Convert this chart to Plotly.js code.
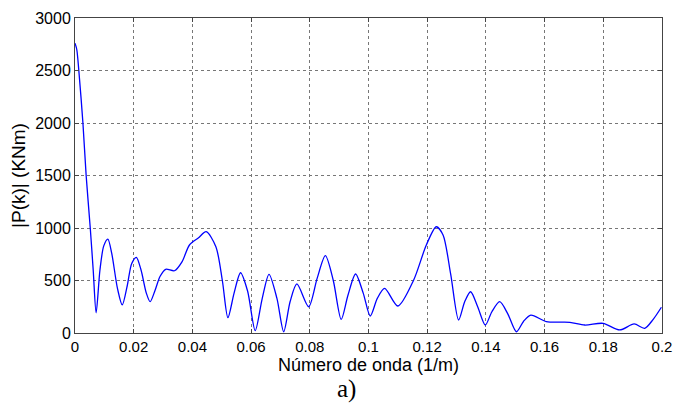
<!DOCTYPE html>
<html>
<head>
<meta charset="utf-8">
<script src="https://cdn.plot.ly/plotly-3.0.1.min.js"></script>
<style>html,body{margin:0;padding:0;background:#fff;} #chart{width:675px;height:405px;}</style>
</head>
<body>
<div id="chart"></div>
<script>
const waveNumber = [0, 0.0006, 0.0013, 0.0027, 0.0038, 0.0052, 0.0062, 0.0072, 0.0085, 0.0098, 0.0112, 0.0125, 0.0145, 0.0161, 0.0178, 0.0193, 0.0209, 0.0225, 0.0243, 0.0256, 0.0272, 0.029, 0.0309, 0.0339, 0.0365, 0.039, 0.042, 0.0447, 0.048, 0.0502, 0.0521, 0.0542, 0.0564, 0.0588, 0.0614, 0.0638, 0.0661, 0.0688, 0.0711, 0.0733, 0.0756, 0.0796, 0.0825, 0.0853, 0.088, 0.0907, 0.093, 0.0956, 0.0982, 0.1006, 0.103, 0.1055, 0.11, 0.1154, 0.1197, 0.1231, 0.1254, 0.128, 0.1307, 0.1328, 0.1348, 0.1372, 0.1398, 0.142, 0.1447, 0.1475, 0.1504, 0.1528, 0.1553, 0.1606, 0.1686, 0.1737, 0.1799, 0.1856, 0.1905, 0.1941, 0.197, 0.1998];
const magnitude = [2760, 2700, 2500, 2000, 1500, 1000, 600, 193, 600, 830, 895, 760, 420, 267, 450, 660, 721, 600, 380, 298, 400, 540, 607, 593, 680, 838, 905, 965, 822, 500, 146, 380, 574, 400, 22, 330, 559, 330, 12, 300, 467, 250, 520, 736, 500, 130, 360, 562, 380, 162, 330, 425, 257, 505, 838, 1012, 933, 560, 124, 300, 393, 250, 76, 200, 298, 180, 12, 110, 171, 108, 102, 76, 92, 29, 86, 45, 130, 245];
const xTicks = [0, 0.02, 0.04, 0.06, 0.08, 0.1, 0.12, 0.14, 0.16, 0.18, 0.2];
const xTickText = ["0", "0.02", "0.04", "0.06", "0.08", "0.1", "0.12", "0.14", "0.16", "0.18", "0.2"];
const yTicks = [0, 500, 1000, 1500, 2000, 2500, 3000];

const trace = {
  x: waveNumber, y: magnitude, type: 'scatter', mode: 'lines',
  line: {color: '#0000ff', width: 1.3, shape: 'spline', smoothing: 0.8},
  hoverinfo: 'none'
};
const axisCommon = {
  showline: true, mirror: 'ticks', linecolor: '#444', linewidth: 1,
  ticks: 'inside', ticklen: 4, tickcolor: '#444',
  showgrid: true, gridcolor: '#777', griddash: 'dot', gridwidth: 1,
  zeroline: false,
  tickfont: {family: 'Liberation Sans, Arial, sans-serif', size: 15, color: '#000'}
};
const layout = {
  width: 675, height: 405,
  margin: {l: 75, r: 13, t: 18, b: 72},
  paper_bgcolor: '#fff', plot_bgcolor: '#fff',
  showlegend: false,
  xaxis: Object.assign({}, axisCommon, {
    range: [0, 0.2], tickvals: xTicks, ticktext: xTickText
  }),
  yaxis: Object.assign({}, axisCommon, {
    range: [0, 3000], tickvals: yTicks,
    tickfont: {family: 'Liberation Sans, Arial, sans-serif', size: 16, color: '#000'},
    title: {text: '|P(k)| (KNm)', standoff: 4, font: {family: 'Liberation Sans, Arial, sans-serif', size: 19, color: '#000'}}
  }),
  annotations: [{
    text: 'Número de onda (1/m)', xref: 'paper', yref: 'paper', x: 0.5, y: -0.102,
    xanchor: 'center', yanchor: 'middle', showarrow: false,
    font: {family: 'Liberation Sans, Arial, sans-serif', size: 18, color: '#000'}
  }, {
    text: 'a)', xref: 'paper', yref: 'paper', x: 0.462, y: -0.178,
    xanchor: 'center', yanchor: 'middle', showarrow: false,
    font: {family: 'Liberation Serif, Times New Roman, serif', size: 25, color: '#000'}
  }]
};
Plotly.newPlot('chart', [trace], layout, {displayModeBar: false, staticPlot: true});
</script>
</body>
</html>
